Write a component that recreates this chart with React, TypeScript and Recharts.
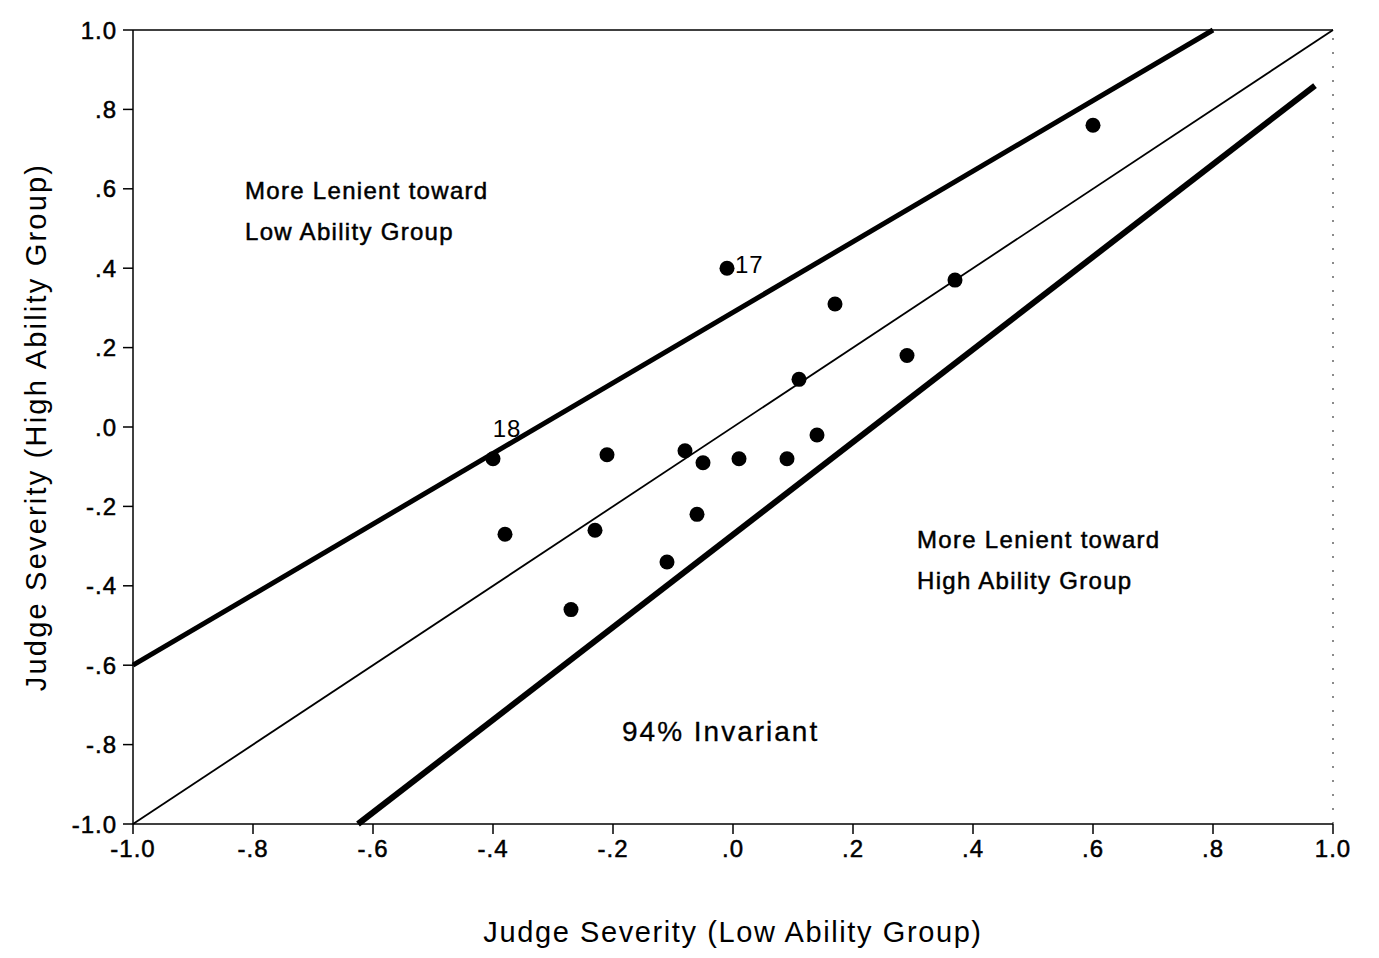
import { ScatterChart, Scatter, XAxis, YAxis, ReferenceLine } from "recharts";

const xTicks = [-1, -0.8, -0.6, -0.4, -0.2, 0, 0.2, 0.4, 0.6, 0.8, 1];
const yTicks = [-1, -0.8, -0.6, -0.4, -0.2, 0, 0.2, 0.4, 0.6, 0.8, 1];

// judge severity estimates, low ability group (x) vs high ability group (y)
const lowAbility = [-0.4, -0.38, -0.27, -0.23, -0.21, -0.11, -0.08, -0.06, -0.05, -0.01, 0.01, 0.09, 0.11, 0.14, 0.17, 0.29, 0.37, 0.6];
const highAbility = [-0.08, -0.27, -0.46, -0.26, -0.07, -0.34, -0.06, -0.22, -0.09, 0.4, -0.08, -0.08, 0.12, -0.02, 0.31, 0.18, 0.37, 0.76];
const judgeIds = ["18", "", "", "", "", "", "", "", "", "17", "", "", "", "", "", "", "", ""];

const upperBand = [{ x: -1, y: -0.6 }, { x: 0.8, y: 1 }];
const identity = [{ x: -1, y: -1 }, { x: 1, y: 1 }];
const lowerBand = [{ x: -0.625, y: -1 }, { x: 0.97, y: 0.86 }];

const judges = lowAbility.map((x, i) => ({ x, y: highAbility[i], id: judgeIds[i] }));

const font = "'Liberation Sans', Arial, sans-serif";

const fmt = (v: number) => {
  const a = Math.abs(v);
  const s = a === 1 ? "1.0" : a.toFixed(1).replace(/^0/, "");
  return v < 0 ? "-" + s : s;
};

const JudgeDot = (p: any) => {
  const id = p.payload?.id;
  const txt = { fontSize: 24, fontFamily: font, fill: "#000", letterSpacing: 1 };
  return (
    <g>
      <circle cx={p.cx} cy={p.cy} r={7.5} fill="#000" />
      {id === "17" && (
        <text x={p.cx + 8} y={p.cy + 5} {...txt}>
          {id}
        </text>
      )}
      {id === "18" && (
        <text x={p.cx + 14} y={p.cy - 22} textAnchor="middle" {...txt}>
          {id}
        </text>
      )}
    </g>
  );
};

const note: React.CSSProperties = {
  position: "absolute",
  fontFamily: font,
  fontSize: 24,
  letterSpacing: 1.3,
  lineHeight: "41px",
  color: "#000",
  whiteSpace: "nowrap",
  WebkitTextStroke: "0.5px #000",
};

export default function App() {
  const tick = { fontSize: 24, fill: "#000", fontFamily: font, letterSpacing: 1, stroke: "#000", strokeWidth: 0.5 };
  return (
    <div style={{ position: "absolute", left: 0, top: 0, width: 1379, height: 958, background: "#fff" }}>
      <ScatterChart width={1379} height={958} margin={{ top: 30, right: 46, bottom: 0, left: 0 }}>
        <XAxis
          type="number"
          dataKey="x"
          domain={[-1, 1]}
          ticks={xTicks}
          tickFormatter={fmt}
          tick={tick}
          stroke="#000"
          strokeWidth={1.5}
          tickSize={10}
          tickMargin={6}
          height={134}
          label={{ value: "Judge Severity (Low Ability Group)", position: "insideBottom", offset: 16, style: { fontSize: 29, letterSpacing: 1.6, fontFamily: font, fill: "#000" } }}
        />
        <YAxis
          type="number"
          dataKey="y"
          domain={[-1, 1]}
          ticks={yTicks}
          tickFormatter={fmt}
          tick={tick}
          stroke="#000"
          strokeWidth={1.5}
          tickSize={10}
          tickMargin={6}
          width={133}
          label={{ value: "Judge Severity (High Ability Group)", angle: -90, position: "insideLeft", offset: 36, style: { fontSize: 29, letterSpacing: 2.2, fontFamily: font, fill: "#000", textAnchor: "middle" } }}
        />
        <ReferenceLine y={1} stroke="#000" strokeWidth={1.5} />
        <ReferenceLine x={1} stroke="#666" strokeWidth={1.5} strokeDasharray="2 12" />
        <ReferenceLine segment={upperBand} stroke="#000" strokeWidth={5} />
        <ReferenceLine segment={identity} stroke="#000" strokeWidth={1.8} />
        <ReferenceLine segment={lowerBand} stroke="#000" strokeWidth={6} />
        <Scatter data={judges} fill="#000" shape={JudgeDot} isAnimationActive={false} />
      </ScatterChart>
      <div style={{ ...note, left: 245, top: 170 }}>
        More Lenient toward
        <br />
        Low Ability Group
      </div>
      <div style={{ ...note, left: 917, top: 519 }}>
        More Lenient toward
        <br />
        High Ability Group
      </div>
      <div style={{ ...note, left: 622, top: 711, fontSize: 28, letterSpacing: 2, WebkitTextStroke: "0.3px #000" }}>94% Invariant</div>
    </div>
  );
}
